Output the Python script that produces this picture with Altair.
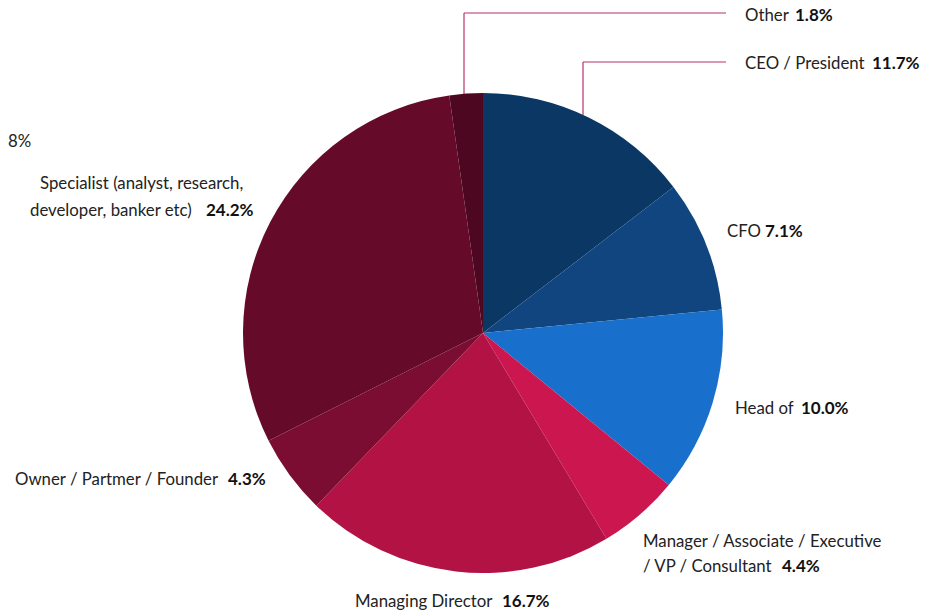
import altair as alt
import pandas as pd

# ---- data ----
categories = ["CEO / President", "CFO", "Head of", "Manager / Associate / Executive / VP / Consultant",
              "Managing Director", "Owner / Partmer / Founder",
              "Specialist (analyst, research, developer, banker etc)", "Other"]
values = [11.7, 7.1, 10.0, 4.4, 16.7, 4.3, 24.2, 1.8]
colors = ["#0b3764", "#10457f", "#186fcc", "#cc1650", "#b31245", "#7c0d32", "#660a29", "#4e0720"]

pie_df = pd.DataFrame({"category": categories, "value": values, "idx": list(range(len(values)))})

# ---- layout (page px minus 8px margin) ----
OFF = 8
CX, CY, R = 483 - OFF, 333 - OFF, 240

# label text lines: (text, x, baseline y) for regular weight
name_lines = [
    ("Other", 745, 21),
    ("CEO / President", 745, 69),
    ("CFO", 727, 237),
    ("Head of", 735, 414),
    ("Manager / Associate / Executive", 643, 547),
    ("/ VP / Consultant", 643, 572),
    ("Managing Director", 355, 607),
    ("Owner / Partmer / Founder", 15, 485),
    ("Specialist (analyst, research,", 40, 189),
    ("developer, banker etc)", 30, 216),
]
# percentage positions (left x, baseline y)
pct_pos = {
    "CEO / President": (872, 69),
    "CFO": (765, 237),
    "Head of": (801, 414),
    "Manager / Associate / Executive / VP / Consultant": (782, 572),
    "Managing Director": (502, 607),
    "Owner / Partmer / Founder": (228, 485),
    "Specialist (analyst, research, developer, banker etc)": (206, 216),
    "Other": (795, 21),
}

names_df = pd.DataFrame({
    "t": [t for t, _, _ in name_lines],
    "x": [x - OFF for _, x, _ in name_lines],
    "y": [y - OFF for _, _, y in name_lines],
})
pct_df = pd.DataFrame({
    "t": [f"{v:.1f}%" for v in values],
    "x": [pct_pos[c][0] - OFF for c in categories],
    "y": [pct_pos[c][1] - OFF for c in categories],
})

# leader lines (Other, CEO): vertical + horizontal segments
seg_df = pd.DataFrame({
    "x": [464, 464, 583, 583],
    "x2": [464, 726, 583, 726],
    "y": [95, 13, 115, 62],
    "y2": [13, 13, 62, 62],
})
for c in ["x", "x2", "y", "y2"]:
    seg_df[c] = seg_df[c] - OFF

pie = alt.Chart(pie_df).mark_arc(outerRadius=R).encode(
    theta=alt.Theta("value:Q", stack=True),
    order=alt.Order("idx:Q"),
    color=alt.Color("category:N", scale=alt.Scale(domain=categories, range=colors), legend=None),
    x=alt.value(CX),
    y=alt.value(CY),
)

lines = alt.Chart(seg_df).mark_rule(color="#b8336a", strokeWidth=1.2).encode(
    x=alt.X("x:Q", scale=None), x2="x2:Q",
    y=alt.Y("y:Q", scale=None), y2="y2:Q",
)

FONT = "Lato"
FS = 16.8
name_text = alt.Chart(names_df).mark_text(
    align="left", baseline="alphabetic", font=FONT, fontSize=FS, fontWeight=400, color="#222222"
).encode(x=alt.X("x:Q", scale=None), y=alt.Y("y:Q", scale=None), text="t:N")

pct_text = alt.Chart(pct_df).mark_text(
    align="left", baseline="alphabetic", font=FONT, fontSize=17, fontWeight="bold", color="#111111"
).encode(x=alt.X("x:Q", scale=None), y=alt.Y("y:Q", scale=None), text="t:N")

cut_df = pd.DataFrame({"t": ["8%"], "x": [0], "y": [147 - OFF]})
cut_text = alt.Chart(cut_df).mark_text(
    align="left", baseline="alphabetic", font=FONT, fontSize=FS, fontWeight=400, color="#222222"
).encode(x=alt.X("x:Q", scale=None), y=alt.Y("y:Q", scale=None), text="t:N")

chart = alt.layer(lines, pie, name_text, pct_text, cut_text).properties(
    width=918, height=603, autosize=alt.AutoSizeParams(type="none"), padding=0
).configure_view(stroke=None)

chart.save("out.html", embed_options={"renderer": "svg", "actions": False})
